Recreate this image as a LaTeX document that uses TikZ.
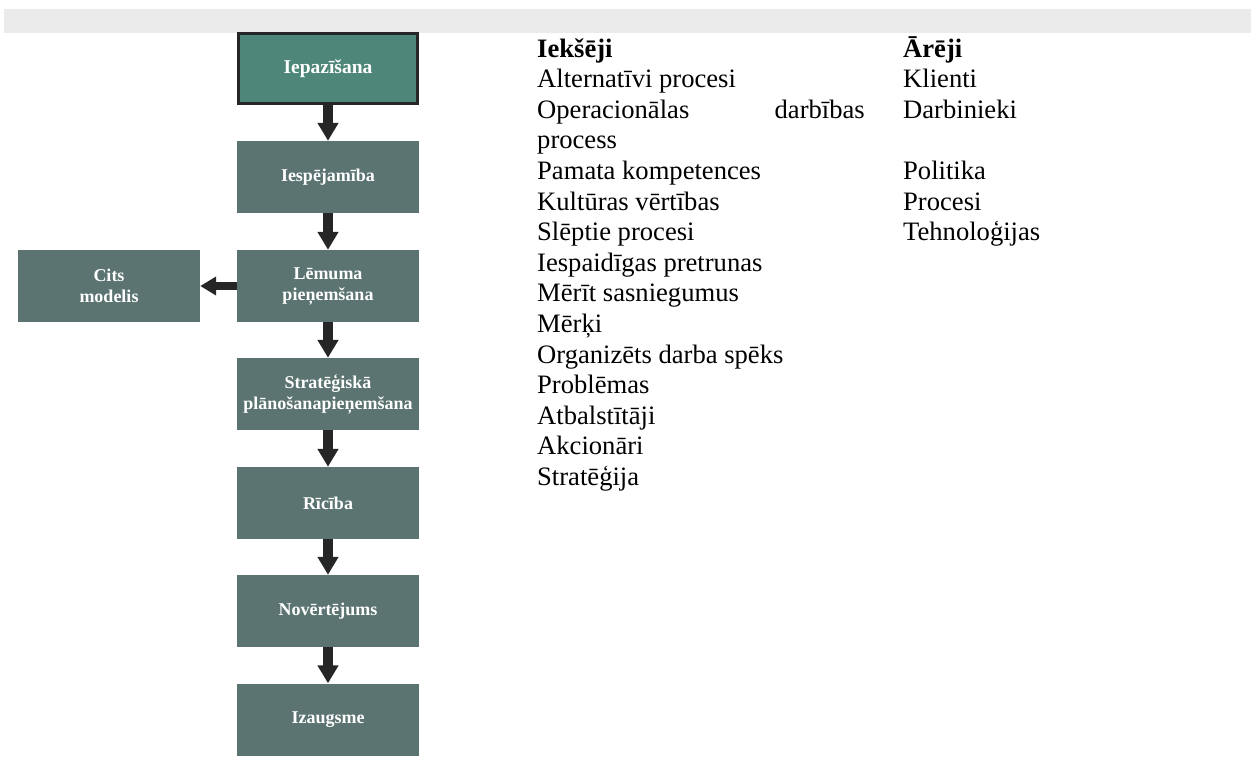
\documentclass[tikz,border=0pt]{standalone}
\usepackage{fontspec}
\setmainfont{Liberation Serif}
\usetikzlibrary{arrows.meta}
\definecolor{boxfill}{RGB}{91,116,113}
\definecolor{startfill}{RGB}{78,134,121}
\definecolor{bandgrey}{RGB}{235,235,235}
\definecolor{arrowdark}{RGB}{38,38,38}
\tikzset{
  stagebox/.style={fill=boxfill, text=white, inner sep=0pt, align=center,
    minimum width=182pt, minimum height=72pt,
    font=\fontsize{18}{21}\selectfont\bfseries},
  startbox/.style={stagebox, fill=startfill, draw=arrowdark, line width=3pt,
    minimum width=179pt, minimum height=70pt,
    font=\fontsize{19.5}{22}\selectfont\bfseries},
  flowarrow/.style={draw=arrowdark, line width=10pt,
    -{Triangle[width=20pt, length=18pt]}},
  sidearrow/.style={draw=arrowdark, line width=8pt,
    -{Triangle[width=18pt, length=16pt]}},
  listline/.style={anchor=base west, inner sep=0pt,
    font=\fontsize{26.6}{30.6}\selectfont},
}
\begin{document}
\begin{tikzpicture}[x=1pt, y=-1pt]
  \useasboundingbox (0,0) rectangle (1251,771);
  % grey band along the top
  \fill[bandgrey] (4,9) rectangle (1251,33);

  % stage boxes
  \node[startbox] (s1) at (328,68.5) {Iepazīšana};
  \node[stagebox] (s2) at (328,177) {Iespējamība};
  \node[stagebox] (s3) at (328,286) {Lēmuma\\pieņemšana};
  \node[stagebox] (s4) at (328,394) {Stratēģiskā\\plānošanapieņemšana};
  \node[stagebox] (s5) at (328,503) {Rīcība};
  \node[stagebox] (s6) at (328,611) {Novērtējums};
  \node[stagebox] (s7) at (328,719.5) {Izaugsme};
  \node[stagebox] (alt) at (109,286) {Cits\\modelis};

  % connectors
  \draw[flowarrow] (s1) -- (s2);
  \draw[flowarrow] (s2) -- (s3);
  \draw[flowarrow] (s3) -- (s4);
  \draw[flowarrow] (s4) -- (s5);
  \draw[flowarrow] (s5) -- (s6);
  \draw[flowarrow] (s6) -- (s7);
  \draw[sidearrow] (s3) -- (alt);

  % internal factors
  \node[listline] (i0) at (537,57) {\bfseries Iekšēji};
  \node[listline] (i1) at (537,87.6) {Alternatīvi procesi};
  \node[listline] (i2) at (537,118.2) {Operacionālas};
  \node[listline, anchor=base east] (i2b) at (865,118.2) {darbības};
  \node[listline] (i3) at (537,148.8) {process};
  \node[listline] (i4) at (537,179.4) {Pamata kompetences};
  \node[listline] (i5) at (537,210) {Kultūras vērtības};
  \node[listline] (i6) at (537,240.6) {Slēptie procesi};
  \node[listline] (i7) at (537,271.2) {Iespaidīgas pretrunas};
  \node[listline] (i8) at (537,301.8) {Mērīt sasniegumus};
  \node[listline] (i9) at (537,332.4) {Mērķi};
  \node[listline] (i10) at (537,363) {Organizēts darba spēks};
  \node[listline] (i11) at (537,393.6) {Problēmas};
  \node[listline] (i12) at (537,424.2) {Atbalstītāji};
  \node[listline] (i13) at (537,454.8) {Akcionāri};
  \node[listline] (i14) at (537,485.4) {Stratēģija};

  % external factors
  \node[listline] (e0) at (903,57) {\bfseries Ārēji};
  \node[listline] (e1) at (903,87.6) {Klienti};
  \node[listline] (e2) at (903,118.2) {Darbinieki};
  \node[listline] (e4) at (903,179.4) {Politika};
  \node[listline] (e5) at (903,210) {Procesi};
  \node[listline] (e6) at (903,240.6) {Tehnoloģijas};
\end{tikzpicture}
\end{document}
